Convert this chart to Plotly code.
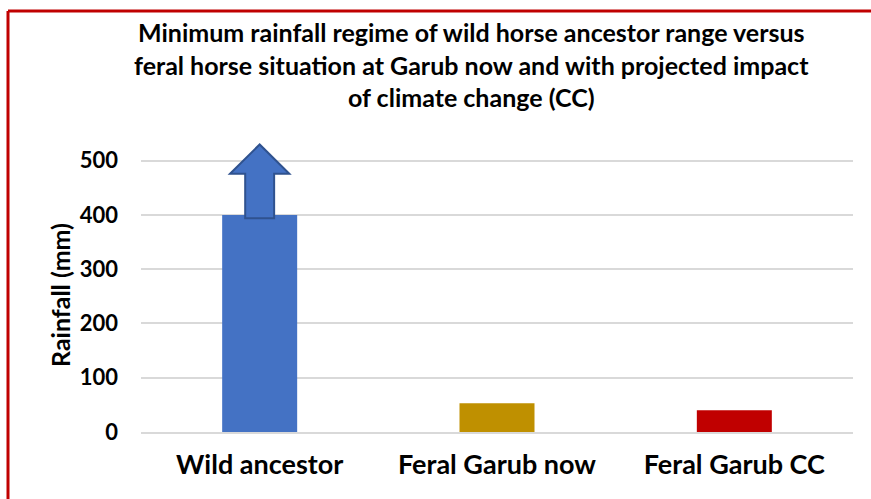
import plotly.graph_objects as go

categories = ["Wild ancestor", "Feral Garub now", "Feral Garub CC"]
rainfall = [400, 53, 40]
bar_colors = ["#4472C4", "#BF9000", "#C00000"]
y_ticks = [0, 100, 200, 300, 400, 500]
title_lines = [
    "Minimum rainfall regime of wild horse ancestor range versus",
    "feral horse situation at Garub now and with projected impact",
    "of climate change (CC)",
]

W, H = 871, 499
L, R, T, B = 141, 18, 139, 67
pw, ph = W - L - R, H - T - B

def px_x(x):
    return (x - L) / pw

def px_y(y):
    return (H - B - y) / ph

FONT = "Lato"

fig = go.Figure()
fig.add_trace(go.Bar(
    x=categories, y=rainfall, marker_color=bar_colors,
    marker_line_width=0, width=0.316,
))

# up arrow above the wild-ancestor bar (data coords)
cx = 0
base = rainfall[0] - 6
head_base, tip = 476, 530
sw, hw = 0.061, 0.125
path = (f"M {cx-sw},{base} L {cx-sw},{head_base} L {cx-hw},{head_base} "
        f"L {cx},{tip} L {cx+hw},{head_base} L {cx+sw},{head_base} L {cx+sw},{base} Z")

border = dict(color="#C00000", width=3)
shapes = [
    dict(type="path", xref="x", yref="y", path=path,
         fillcolor="#4472C4", line=dict(color="#2F528F", width=2)),
    dict(type="line", xref="paper", yref="paper",
         x0=px_x(8), x1=px_x(W), y0=px_y(11), y1=px_y(11), line=border, layer="above"),
    dict(type="line", xref="paper", yref="paper",
         x0=px_x(8), x1=px_x(8), y0=px_y(11), y1=px_y(H), line=border, layer="above"),
]

annotations = []
for i, line in enumerate(title_lines):
    annotations.append(dict(
        text=f"<b>{line}</b>", xref="paper", yref="paper",
        x=px_x(471), y=px_y(32 + i * 32.5), xanchor="center", yanchor="middle",
        showarrow=False, font=dict(family=FONT, size=25, color="#000000"),
    ))
annotations.append(dict(
    text="<b>Rainfall (mm)</b>", xref="paper", yref="paper",
    x=px_x(60), y=px_y(295), xanchor="center", yanchor="middle", textangle=-90,
    showarrow=False, font=dict(family=FONT, size=25, color="#000000"),
))

fig.update_layout(
    width=W, height=H,
    margin=dict(l=L, r=R, t=T, b=B, pad=0),
    paper_bgcolor="white", plot_bgcolor="white",
    showlegend=False,
    shapes=shapes, annotations=annotations,
    xaxis=dict(
        tickfont=dict(family=FONT, size=27, color="#000000"),
        tickvals=categories, ticktext=[f"<b>{c}</b>" for c in categories],
        showline=True, linecolor="#D9D9D9", linewidth=2,
        showgrid=False, ticks="", ticklabelstandoff=8,
    ),
    yaxis=dict(
        range=[0, 540], tickvals=y_ticks, ticktext=[f"<b>{v}</b>" for v in y_ticks],
        tickfont=dict(family=FONT, size=22, color="#000000"),
        showgrid=True, gridcolor="#D9D9D9", gridwidth=1.5,
        zeroline=False, showline=False, ticks="", ticklabelstandoff=22,
    ),
)

fig.write_html(
    "out.html",
    config={"displayModeBar": False},
    post_script="document.body.style.margin='0';document.body.style.overflow='hidden';",
)
